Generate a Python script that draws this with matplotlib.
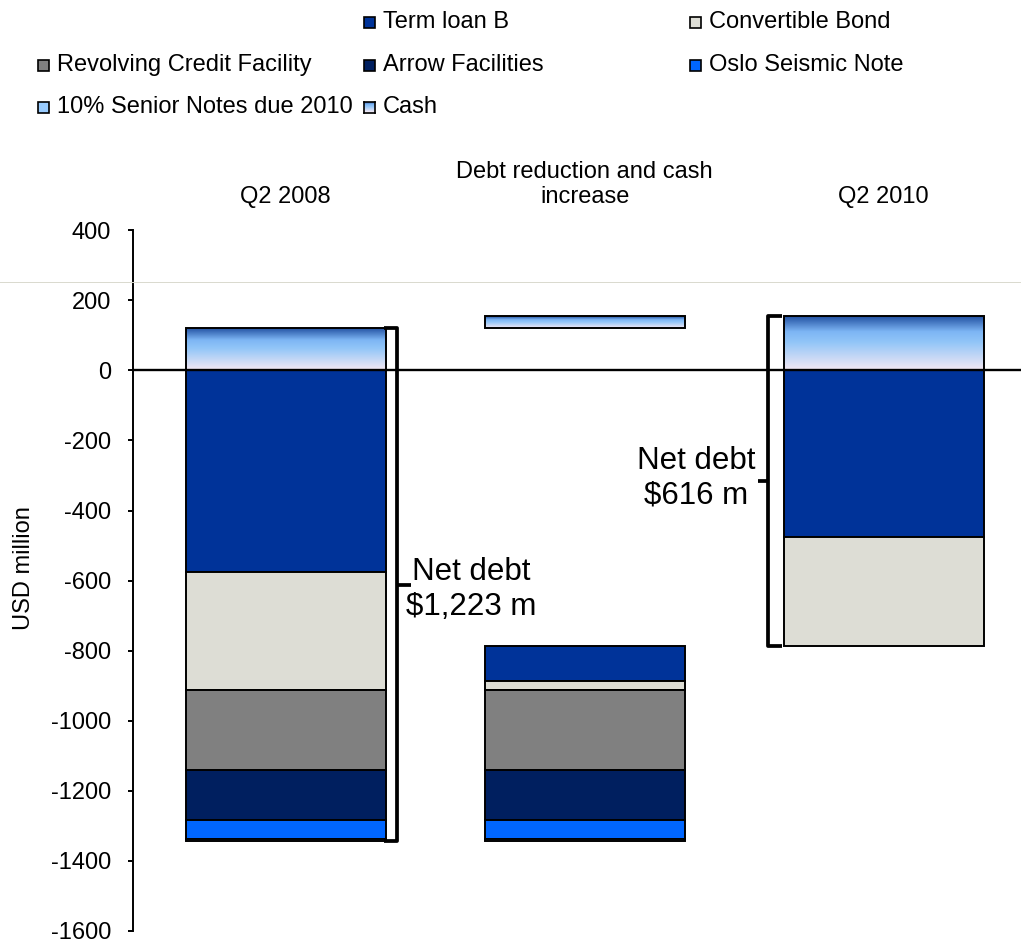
import numpy as np
import matplotlib.pyplot as plt
from matplotlib.colors import LinearSegmentedColormap
from matplotlib.patches import Rectangle
from matplotlib.lines import Line2D

plt.rcParams['font.family'] = ['Liberation Sans', 'DejaVu Sans']
plt.rcParams['axes.unicode_minus'] = False

# debt components, listed from the zero line downwards (USD million)
categories = ['Q2 2008', 'Debt reduction and cash\nincrease', 'Q2 2010']
series = ['Term loan B', 'Convertible Bond', 'Revolving Credit Facility',
          'Arrow Facilities', 'Oslo Seismic Note', '10% Senior Notes due 2010']
debt_q2_2008 = [576, 337, 228, 144, 53, 7]
debt_q2_2010 = [476, 310, 0, 0, 0, 0]
cash_q2_2008 = 122
cash_q2_2010 = 155
net_debt_labels = ['Net debt\n$1,223 m', 'Net debt\n$616 m']
yticks = list(range(-1600, 401, 200))

colors = ['#003399', '#DDDDD5', '#808080', '#001F5F', '#0066FF', '#99CCFF']
cash_cmap = LinearSegmentedColormap.from_list(
    'cash', [(0, '#1C4A9C'), (0.3, '#7DB5F4'), (0.5, '#93C6F8'), (1, '#F3E8F3')])

W, H = 1021, 941
width = 0.669
edge_lw = 1.4


def stack_down(ax, x, top, values):
    # stack segments downwards starting at `top`
    bottom = top
    for v, c in zip(values, colors):
        if v == 0:
            continue
        ax.bar(x, -v, width, bottom=bottom, color=c, edgecolor='black',
               linewidth=edge_lw, zorder=2)
        bottom -= v
    return bottom


def cash_bar(ax, x, low, high):
    bar = ax.bar(x, high - low, width, bottom=low, facecolor='none',
                 edgecolor='black', linewidth=edge_lw, zorder=3)[0]
    grad = np.linspace(0, 1, 256).reshape(-1, 1)
    im = ax.imshow(grad, cmap=cash_cmap, aspect='auto', origin='upper',
                   extent=[x - width / 2, x + width / 2, low, high], zorder=2)
    im.set_clip_path(bar)


def bracket(ax, x_line, x_end, x_tip, y_top, y_bot):
    kw = dict(color='black', lw=2.7, solid_joinstyle='round',
              solid_capstyle='butt', zorder=5, clip_on=False)
    ax.plot([x_end, x_line, x_line, x_end], [y_top, y_top, y_bot, y_bot], **kw)
    ym = (y_top + y_bot) / 2
    ax.plot([x_line, x_tip], [ym, ym], **kw)


fig = plt.figure(figsize=(W / 100, H / 100), dpi=100)
ax = fig.add_axes([133 / W, 1 - 930.8 / H, (W - 133) / W, (930.8 - 230.3) / H])
ax.patch.set_alpha(0)

# Q2 2008
stack_down(ax, 0, 0, debt_q2_2008)
cash_bar(ax, 0, 0, cash_q2_2008)

# reductions hang below the Q2 2010 debt level
reductions = [a - b for a, b in zip(debt_q2_2008, debt_q2_2010)]
stack_down(ax, 1, -sum(debt_q2_2010), reductions)
cash_bar(ax, 1, cash_q2_2008, cash_q2_2010)

# Q2 2010
stack_down(ax, 2, 0, debt_q2_2010)
cash_bar(ax, 2, 0, cash_q2_2010)

ax.axhline(0, color='black', lw=1.7, zorder=4)

# net debt brackets
px = 1 / 299
right0 = 0 + width / 2
bracket(ax, right0 + 11 * px, right0 - 2 * px, right0 + 25 * px,
        cash_q2_2008, -sum(debt_q2_2008))
left2 = 2 - width / 2
bracket(ax, left2 - 16 * px, left2 - 2 * px, left2 - 26 * px,
        cash_q2_2010, -sum(debt_q2_2010))
ax.text(0.62, -626, net_debt_labels[0], ha='center', va='center',
        fontsize=22.5, linespacing=1.2)
ax.text(1.372, -307, net_debt_labels[1], ha='center', va='center',
        fontsize=22.5, linespacing=1.2)

for i, cat in enumerate(categories):
    ax.annotate(cat, xy=(i, 1), xycoords=('data', 'axes fraction'),
                xytext=(0, 16), textcoords='offset points', ha='center',
                va='bottom', fontsize=17, linespacing=1.2)

ax.set_xlim(-0.511, 2.459)
ax.set_ylim(-1600, 400)
ax.set_yticks(yticks)
ax.set_xticks([])
for s in ['top', 'right', 'bottom']:
    ax.spines[s].set_visible(False)
ax.spines['left'].set_linewidth(1.4)
ax.tick_params(axis='y', direction='out', length=3.6, width=1.4, pad=12,
               labelsize=17)
fig.text(24 / W, 1 - 568 / H, 'USD million', rotation=90, ha='center',
         va='center', fontsize=17)

fig.add_artist(Line2D([0, 1], [1 - 281.7 / H] * 2, transform=fig.transFigure,
                      color='#D9D9CE', lw=0.7, zorder=1))

# legend laid out on a 3-column grid, first slot left empty
legend_x = [38, 364, 690]
legend_y = [22, 65, 107]
msize = 11
legend_names = series + ['Cash']
for slot, name in enumerate(legend_names, start=1):
    row, col = divmod(slot, 3)
    mx, my = legend_x[col], legend_y[row]
    if name == 'Cash':
        lax = fig.add_axes([mx / W, 1 - (my + msize / 2) / H, msize / W, msize / H])
        lax.imshow(np.linspace(0, 1, 64).reshape(-1, 1), cmap=cash_cmap,
                   aspect='auto')
        lax.set_xticks([])
        lax.set_yticks([])
        for sp in lax.spines.values():
            sp.set_linewidth(1.2)
    else:
        fig.add_artist(Rectangle((mx / W, 1 - (my + msize / 2) / H), msize / W,
                                 msize / H, transform=fig.transFigure,
                                 facecolor=colors[series.index(name)],
                                 edgecolor='black', linewidth=1.2))
    fig.text((mx + 19) / W, 1 - my / H, name, ha='left', va='center',
             fontsize=17)

fig.savefig('out.png', dpi=100)
